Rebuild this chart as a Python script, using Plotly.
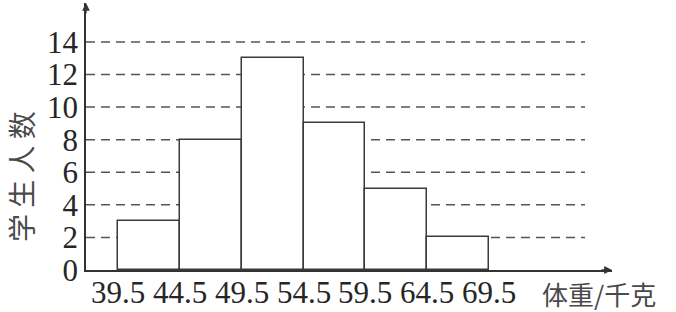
import plotly.graph_objects as go

# ---- data ----
bin_edges = [39.5, 44.5, 49.5, 54.5, 59.5, 64.5, 69.5]
counts = [3, 8, 13, 9, 5, 2]
y_ticks = [0, 2, 4, 6, 8, 10, 12, 14]
grid_levels = [2, 4, 6, 8, 10, 12, 14]
x_tick_labels = ["39.5", "44.5", "49.5", "54.5", "59.5", "64.5", "69.5"]
x_title = "体重/千克"
y_title = "学生人数"

centers = [(bin_edges[i] + bin_edges[i + 1]) / 2 for i in range(len(counts))]
widths = [bin_edges[i + 1] - bin_edges[i] for i in range(len(counts))]

W, H = 676, 312
ML, MR, MT, MB = 86, 64, 3, 42
PW, PH = W - ML - MR, H - MT - MB
XR = [36.913, 79.446]
YR = [0, 16.39]
GRID_END = 77.26

fig = go.Figure()
fig.add_trace(go.Bar(
    x=centers, y=counts, width=widths,
    marker=dict(color="white", line=dict(color="#3a3a3a", width=1.5)),
    hoverinfo="skip",
))

shapes = []
for g in grid_levels:
    shapes.append(dict(type="line", xref="x", yref="y", x0=XR[0], x1=GRID_END, y0=g, y1=g,
                       line=dict(color="#555555", width=1.5, dash="9px,6px"), layer="below"))

tick_font = dict(family="Liberation Serif, DejaVu Serif, serif", size=31, color="#262626")
cjk = "Noto Sans CJK SC"

annotations = [
    dict(xref="paper", yref="paper", x=1, y=0, ax=-12, ay=0,
         showarrow=True, arrowhead=2, arrowsize=1.2, arrowwidth=1.3, arrowcolor="#333333", text=""),
    dict(xref="paper", yref="paper", x=0, y=1, ax=0, ay=12,
         showarrow=True, arrowhead=2, arrowsize=1.2, arrowwidth=1.3, arrowcolor="#333333", text=""),
    dict(xref="paper", yref="paper", x=(541 - ML) / PW, y=-23 / PH,
         xanchor="left", yanchor="middle", showarrow=False, text=x_title, borderpad=0,
         font=dict(family=cjk, size=26, color="#4a4a4a")),
    dict(xref="paper", yref="paper", x=(21 - ML) / PW, y=(270 - 177) / PH,
         xanchor="center", yanchor="middle", showarrow=False, textangle=-90, borderpad=0,
         text=" ".join(y_title),
         font=dict(family=cjk, size=28, color="#4a4a4a")),
]
for v, lab in zip(bin_edges, x_tick_labels):
    annotations.append(dict(xref="x", yref="paper", x=v, y=-22 / PH, xanchor="center",
                            yanchor="middle", showarrow=False, text=lab, font=tick_font))

fig.update_layout(
    width=W, height=H,
    margin=dict(l=ML, r=MR, t=MT, b=MB, pad=0, autoexpand=False),
    paper_bgcolor="white", plot_bgcolor="white",
    showlegend=False, bargap=0,
    shapes=shapes, annotations=annotations,
    xaxis=dict(range=XR, showticklabels=False, automargin=False,
               showgrid=False, zeroline=False, showline=True, linecolor="#333333", linewidth=1.5,
               ticks="", fixedrange=True),
    yaxis=dict(range=YR, tickmode="array", tickvals=y_ticks, automargin=False,
               showgrid=False, zeroline=False, showline=True, linecolor="#333333", linewidth=1.5,
               ticks="", tickfont=tick_font, fixedrange=True),
)

fig.write_html("out.html")
